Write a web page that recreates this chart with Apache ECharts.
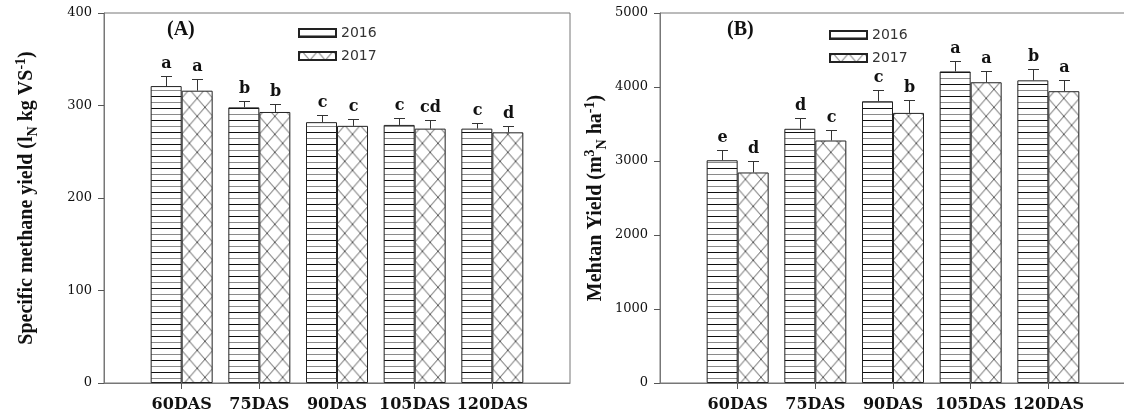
<!DOCTYPE html>
<html>
<head>
<meta charset="utf-8">
<script src="https://cdn.jsdelivr.net/npm/echarts@6/dist/echarts.min.js"></script>
<style>
  html, body { margin: 0; padding: 0; background: #fff; }
  #chart { width: 1124px; height: 418px; }
</style>
</head>
<body>
<div id="chart"></div>
<script>
  const categories = ['60DAS', '75DAS', '90DAS', '105DAS', '120DAS'];

  // (A) specific methane yield
  const specific2016 = [321, 298, 282, 279, 275];
  const specific2017 = [316, 293, 278, 275, 271];
  const specificErr2016 = [11, 7, 8, 7.5, 6];
  const specificErr2017 = [13, 8.5, 7.5, 9, 7];
  const specificLetters2016 = ['a', 'b', 'c', 'c', 'c'];
  const specificLetters2017 = ['a', 'b', 'c', 'cd', 'd'];
  const specificTicks = [0, 100, 200, 300, 400];

  // (B) methane yield per ha
  const yield2016 = [3010, 3435, 3808, 4210, 4090];
  const yield2017 = [2845, 3277, 3650, 4064, 3943];
  const yieldErr2016 = [145, 140, 158, 145, 152];
  const yieldErr2017 = [152, 143, 170, 150, 153];
  const yieldLetters2016 = ['e', 'd', 'c', 'a', 'b'];
  const yieldLetters2017 = ['d', 'c', 'b', 'a', 'a'];
  const yieldTicks = [0, 1000, 2000, 3000, 4000, 5000];

  const BAR_W = 31;
  const SERIF = '"Liberation Serif", "Times New Roman", serif';
  const DSERIF = '"DejaVu Serif", serif';

  // padded category list so the axis has an empty slot at each end
  const axisCats = [''].concat(categories, ['']);

  const hlinePattern = () => {
    const canvas = document.createElement('canvas');
    canvas.width = 8;
    canvas.height = 12;
    const ctx = canvas.getContext('2d');
    ctx.fillStyle = '#fff';
    ctx.fillRect(0, 0, 8, 12);
    ctx.fillStyle = '#111';
    ctx.fillRect(0, 0, 8, 1);
    ctx.fillStyle = '#8a8a8a';
    ctx.fillRect(0, 6, 8, 1);
    return canvas;
  };

  const crossPattern = () => {
    const canvas = document.createElement('canvas');
    canvas.width = 16;
    canvas.height = 18;
    const ctx = canvas.getContext('2d');
    ctx.fillStyle = '#fff';
    ctx.fillRect(0, 0, 16, 18);
    ctx.strokeStyle = '#555';
    ctx.lineWidth = 1;
    ctx.beginPath();
    ctx.moveTo(0, 0);
    ctx.lineTo(16, 18);
    ctx.moveTo(16, 0);
    ctx.lineTo(0, 18);
    ctx.stroke();
    return canvas;
  };

  const hImg = hlinePattern();
  const xImg = crossPattern();

  const fill2016 = { image: hImg, repeat: 'repeat' };
  // shift/scale the hatch so crossings land on the bar centres
  const fill2017 = (x) => ({ image: xImg, repeat: 'repeat', x: x, y: 143.3, scaleX: 0.9708 });

  const barSeries = (name, values, gi, fill) => ({
    name: name,
    type: 'bar',
    xAxisIndex: gi,
    yAxisIndex: gi,
    barWidth: BAR_W,
    barGap: 0,
    data: values.map((v, i) => [categories[i], v]),
    itemStyle: {
      color: fill,
      borderColor: '#222',
      borderWidth: 1,
    },
    z: 2,
  });

  const errSeries = (values, errs, letters, gi, offset) => ({
    type: 'custom',
    name: 'err' + gi + offset,
    xAxisIndex: gi,
    yAxisIndex: gi,
    data: values.map((v, i) => [i + 1, v, errs[i]]),
    renderItem: (params, api) => {
      const base = api.coord([api.value(0), api.value(1)]);
      const top = api.coord([api.value(0), api.value(1) + api.value(2)]);
      const x = Math.round(base[0] + offset) + 0.5;
      const ty = Math.round(top[1]) + 0.5;
      const lineStyle = { stroke: '#333', lineWidth: 1 };
      return {
        type: 'group',
        children: [
          { type: 'line', shape: { x1: x, y1: base[1], x2: x, y2: ty }, style: lineStyle },
          { type: 'line', shape: { x1: x - 5.5, y1: ty, x2: x + 5.5, y2: ty }, style: lineStyle },
          {
            type: 'text',
            style: {
              x: x,
              y: ty - 5,
              text: letters[params.dataIndex],
              align: 'center',
              verticalAlign: 'bottom',
              font: 'bold 16px ' + DSERIF,
              fill: '#111',
            },
          },
        ],
      };
    },
    z: 3,
  });

  const xAxisFor = (gi) => ({
    type: 'category',
    gridIndex: gi,
    data: axisCats,
    boundaryGap: false,
    axisLine: { lineStyle: { color: '#777', width: 1 } },
    axisTick: {
      length: 6,
      lineStyle: { color: '#555' },
      interval: (index) => index > 0 && index < axisCats.length - 1,
    },
    axisLabel: {
      margin: 14,
      interval: 0,
      fontFamily: DSERIF,
      fontWeight: 'bold',
      fontSize: 16,
      color: '#111',
    },
    splitLine: { show: false },
  });

  const yAxisFor = (gi, ticks, name, rich, gap, size) => ({
    type: 'value',
    gridIndex: gi,
    min: ticks[0],
    max: ticks[ticks.length - 1],
    interval: ticks[1] - ticks[0],
    axisLine: { show: true, lineStyle: { color: '#777', width: 1 } },
    axisTick: { show: true, length: 6, lineStyle: { color: '#555' } },
    axisLabel: { margin: 12, fontFamily: DSERIF, fontSize: 13, color: '#111', formatter: (v) => String(v) },
    splitLine: { show: false },
    name: name,
    nameLocation: 'middle',
    nameRotate: 90,
    nameGap: gap,
    nameTextStyle: {
      fontFamily: SERIF,
      fontWeight: 'bold',
      fontSize: size,
      color: '#111',
      rich: rich,
    },
  });

  const richFor = (size) => ({
    sup: { fontFamily: SERIF, fontWeight: 'bold', fontSize: 14, color: '#111', verticalAlign: 'top', lineHeight: size + 6 },
    sub: { fontFamily: SERIF, fontWeight: 'bold', fontSize: 14, color: '#111', verticalAlign: 'bottom', lineHeight: size + 6 },
  });

  const legendFor = (left, top) => ({
    left: left,
    top: top,
    padding: 0,
    orient: 'vertical',
    icon: 'rect',
    itemWidth: 37,
    itemHeight: 8,
    itemGap: 9,
    data: ['2016', '2017'],
    selectedMode: false,
    textStyle: { fontFamily: '"DejaVu Sans", sans-serif', fontSize: 14, color: '#333' },
  });

  const chart = echarts.init(document.getElementById('chart'), null, { renderer: 'canvas' });

  const option = {
    animation: false,
    backgroundColor: '#fff',
    title: [
      { text: '(A)', left: 162, top: 15, textStyle: { fontFamily: SERIF, fontWeight: 'bold', fontSize: 20, color: '#111' } },
      { text: '(B)', left: 722, top: 15, textStyle: { fontFamily: SERIF, fontWeight: 'bold', fontSize: 20, color: '#111' } },
    ],
    legend: [legendFor(298, 26), legendFor(829, 28)],
    grid: [
      { left: 104, top: 13, width: 466, height: 370, show: true, borderColor: '#777', borderWidth: 1, outerBoundsMode: 'none' },
      { left: 660, top: 13, width: 466, height: 370, show: true, borderColor: '#777', borderWidth: 1, outerBoundsMode: 'none' },
    ],
    xAxis: [xAxisFor(0), xAxisFor(1)],
    yAxis: [
      yAxisFor(0, specificTicks, 'Specific methane yield (l{sub|N} kg VS{sup|-1})', richFor(20), 64, 20),
      yAxisFor(1, yieldTicks, 'Mehtan Yield (m{sup|3}{sub|N} ha{sup|-1})', richFor(20), 51, 20),
    ],
    series: [
      barSeries('2016', specific2016, 0, fill2016),
      barSeries('2017', specific2017, 0, fill2017(189.4)),
      barSeries('2016', yield2016, 1, fill2016),
      barSeries('2017', yield2017, 1, fill2017(745.4)),
      errSeries(specific2016, specificErr2016, specificLetters2016, 0, -BAR_W / 2),
      errSeries(specific2017, specificErr2017, specificLetters2017, 0, BAR_W / 2),
      errSeries(yield2016, yieldErr2016, yieldLetters2016, 1, -BAR_W / 2),
      errSeries(yield2017, yieldErr2017, yieldLetters2017, 1, BAR_W / 2),
    ],
  };

  chart.setOption(option);
</script>
</body>
</html>
